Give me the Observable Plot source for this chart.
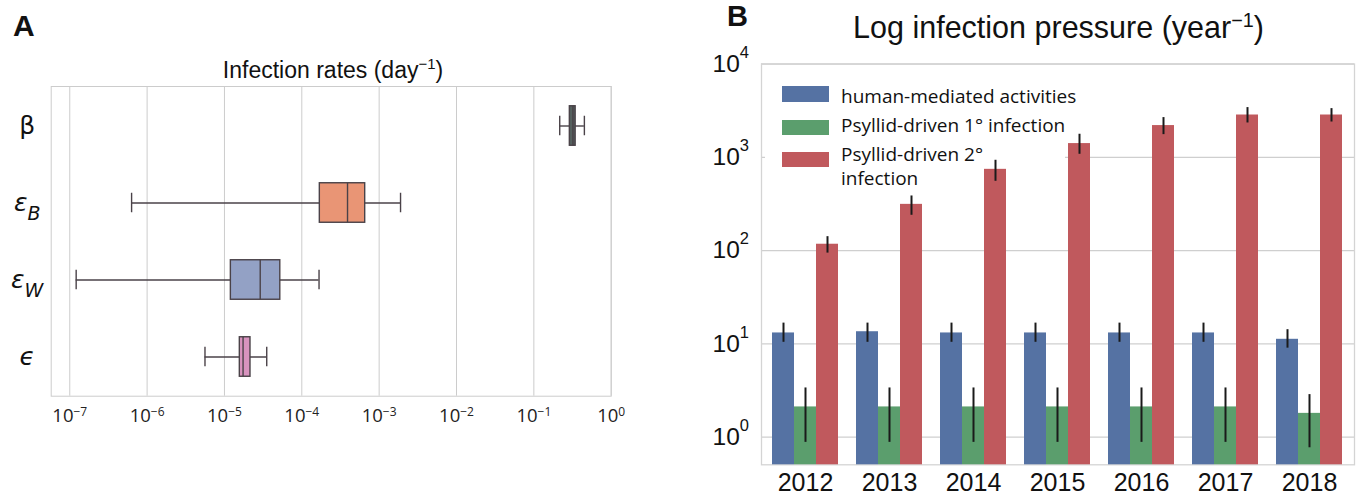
<!DOCTYPE html>
<html>
<head>
<meta charset="utf-8">
<script src="https://cdn.jsdelivr.net/npm/d3@7"></script>
<script src="https://cdn.jsdelivr.net/npm/@observablehq/plot@0.6"></script>
<style>
  html, body { margin: 0; padding: 0; background: #fff; }
  #page { position: relative; width: 1358px; height: 497px; overflow: hidden; background: #fff;
          font-family: "Liberation Sans", Arial, sans-serif; color: #111; }
  .plot-layer { position: absolute; left: 0; top: 0; }
  .panel-letter { position: absolute; font-weight: bold; line-height: 1; white-space: nowrap; }
  .title { position: absolute; line-height: 1; white-space: nowrap; transform: translateX(-50%); }
  .sup { font-size: 0.65em; position: relative; top: -0.55em; }
  .legend-text { position: absolute; font-family: "Open Sans", sans-serif; font-size: 19px; line-height: 19px; white-space: nowrap; color: #111; }
  .legend-patch { position: absolute; }
</style>
</head>
<body>
<div id="page"></div>
<script>
// ---------------- Panel A data: infection rates (day^-1) ----------------
const paramLabels = ["β", "ε_B", "ε_W", "ϵ"];
const whiskerLow  = [0.216, 6.3e-7, 1.21e-7, 5.6e-6];
const quartile1   = [0.292, 1.71e-4, 1.21e-5, 1.58e-5];
const medians     = [0.320, 3.9e-4, 2.9e-5, 1.74e-5];
const quartile3   = [0.347, 6.6e-4, 5.27e-5, 2.17e-5];
const whiskerHigh = [0.450, 1.89e-3, 1.67e-4, 3.52e-5];
const boxColors   = ["#56615f", "#e99575", "#93a1c5", "#d893be"];
const rateTicks   = [1e-7, 1e-6, 1e-5, 1e-4, 1e-3, 1e-2, 1e-1, 1];
const rateDomain  = [Math.pow(10, -7.24), 1];

// ---------------- Panel B data: log infection pressure (year^-1) ----------------
const years = ["2012", "2013", "2014", "2015", "2016", "2017", "2018"];
const seriesNames  = ["human-mediated activities", "Psyllid-driven 1° infection", "Psyllid-driven 2° infection"];
const legendLabels = ["human-mediated activities", "Psyllid-driven 1° infection", "Psyllid-driven 2°\ninfection"];
const seriesColors = ["#5572a3", "#5b9e6d", "#c0595d"];
const humanValues     = [13.1, 13.5, 13.1, 13.1, 13.1, 13.1, 11.2];
const humanLow        = [10.4, 10.4, 10.4, 10.4, 10.4, 10.4, 9.0];
const humanHigh       = [16.7, 16.7, 16.7, 16.7, 16.7, 16.7, 14.2];
const primaryValues   = [2.11, 2.11, 2.11, 2.11, 2.11, 2.11, 1.80];
const primaryLow      = [0.88, 0.88, 0.88, 0.88, 0.88, 0.88, 0.77];
const primaryHigh     = [3.37, 3.37, 3.37, 3.37, 3.37, 3.37, 2.86];
const secondaryValues = [117, 313, 743, 1403, 2188, 2840, 2840];
const secondaryLow    = [94, 239, 553, 1077, 1750, 2333, 2389];
const secondaryHigh   = [141, 385, 929, 1766, 2664, 3410, 3324];
const pressureTicks   = [1, 10, 100, 1000, 10000];
const pressureDomain  = [Math.pow(10, -0.296), 10000];

// ---------------- helpers ----------------
const page = document.getElementById("page");
function addDiv(cls, css, html) {
  const d = document.createElement("div");
  d.className = cls;
  Object.assign(d.style, css);
  if (html != null) d.innerHTML = html;
  page.appendChild(d);
  return d;
}
const powLabel = d => "10^" + Math.round(Math.log10(d));
function superscriptTicks(svg, supSize, dy) {
  d3.select(svg).selectAll("text").each(function () {
    const m = /^10\^(-?\d+)$/.exec(this.textContent);
    if (!m) return;
    const t = d3.select(this);
    t.text(null);
    t.append("tspan").text("10");
    t.append("tspan").attr("dy", dy).attr("font-size", supSize).text(m[1].replace("-", "\u2212"));
  });
}

// ---------------- Panel A ----------------
const rateRows = paramLabels.map((p, i) => ({
  param: p, lo: whiskerLow[i], q1: quartile1[i], med: medians[i], q3: quartile3[i], hi: whiskerHigh[i], color: boxColors[i]
}));
const boxStroke = "#4a4248";
const plotA = Plot.plot({
  width: 640, height: 497,
  marginLeft: 50.7, marginRight: 29.3, marginTop: 86, marginBottom: 101.3,
  style: {background: "transparent", fontFamily: "'Open Sans', sans-serif", overflow: "visible"},
  x: {type: "log", domain: rateDomain, axis: null},
  y: {type: "band", domain: paramLabels, padding: 0, axis: null},
  color: {type: "identity"},
  marks: [
    Plot.gridX(rateTicks, {stroke: "#cccccc", strokeOpacity: 1, strokeWidth: 1}),
    Plot.frame({stroke: "#cccccc", strokeWidth: 1}),
    Plot.ruleY(rateRows, {y: "param", x1: "lo", x2: "hi", stroke: boxStroke, strokeWidth: 1.4}),
    Plot.tickX(rateRows, {x: "lo", y: "param", insetTop: 28.75, insetBottom: 28.75, stroke: boxStroke, strokeWidth: 1.4}),
    Plot.tickX(rateRows, {x: "hi", y: "param", insetTop: 28.75, insetBottom: 28.75, stroke: boxStroke, strokeWidth: 1.4}),
    Plot.barX(rateRows, {x1: "q1", x2: "q3", y: "param", fill: "color", insetTop: 18.75, insetBottom: 18.75, stroke: boxStroke, strokeWidth: 1.4}),
    Plot.tickX(rateRows, {x: "med", y: "param", insetTop: 18.75, insetBottom: 18.75, stroke: boxStroke, strokeWidth: 1.4}),
    Plot.axisX(rateTicks, {anchor: "bottom", tickSize: 0, tickPadding: 13, tickFormat: powLabel, label: null,
      fontSize: 18.5, fontFamily: "'Open Sans', sans-serif", fill: "#222"}),
    Plot.axisY({anchor: "left", tickSize: 0, tickPadding: 24, textAnchor: "middle", label: null,
      fontSize: 25, fontFamily: "'DejaVu Sans', sans-serif", fill: "#111"})
  ]
});
superscriptTicks(plotA, 12, -6.5);
// subscripts / italics for parameter names
d3.select(plotA).selectAll("text").each(function () {
  const s = this.textContent;
  if (!paramLabels.includes(s)) return;
  const t = d3.select(this);
  if (s === "β") return;
  t.attr("font-style", "italic");
  const m = /^(.)_(.)$/.exec(s);
  if (m) {
    t.text(null);
    t.append("tspan").text(m[1]);
    t.append("tspan").attr("dy", 9).attr("font-size", 19).text(m[2]);
  }
});
plotA.classList.add("plot-layer");
page.appendChild(plotA);

addDiv("panel-letter", {left: "13px", top: "10.6px", fontSize: "30px", fontFamily: "'Liberation Sans', Arial, sans-serif"}, "A");
addDiv("title", {left: "333px", top: "58.5px", fontSize: "23px"}, "Infection rates (day<span class='sup'>\u22121</span>)");

// ---------------- Panel B ----------------
const pressureRows = [];
const valueSets = [humanValues, primaryValues, secondaryValues];
const lowSets = [humanLow, primaryLow, secondaryLow];
const highSets = [humanHigh, primaryHigh, secondaryHigh];
years.forEach((y, yi) => seriesNames.forEach((s, si) => pressureRows.push({
  year: y, series: s, value: valueSets[si][yi], lo: lowSets[si][yi], hi: highSets[si][yi], floor: pressureDomain[0]
})));

const wrapB = document.createElement("div");
Object.assign(wrapB.style, {position: "absolute", left: "680px", top: "0px", width: "678px", height: "497px"});
page.appendChild(wrapB);

const dimsB = {width: 678, height: 497, marginLeft: 81, marginRight: 4, marginTop: 63.5, marginBottom: 32.7};

// background layer: grid, frame, y axis
const plotBbg = Plot.plot({
  ...dimsB,
  style: {background: "transparent", fontFamily: "'Liberation Sans', Arial, sans-serif", overflow: "visible"},
  y: {type: "log", domain: pressureDomain, axis: null},
  marks: [
    Plot.gridY(pressureTicks, {stroke: "#cfcfcf", strokeOpacity: 1, strokeWidth: 1.3}),
    Plot.frame({stroke: "#d4d4d4", strokeWidth: 1.3}),
    Plot.axisY(pressureTicks, {anchor: "left", tickSize: 0, tickPadding: 12.5, tickFormat: powLabel, label: null,
      fontSize: 24.5, fontFamily: "'Liberation Sans', Arial, sans-serif", fill: "#111"})
  ]
});
superscriptTicks(plotBbg, 16.5, -14);
plotBbg.classList.add("plot-layer");
wrapB.appendChild(plotBbg);

// legend background (hides the grid line behind the legend, bars stay on top)
const legBg = document.createElement("div");
Object.assign(legBg.style, {position: "absolute", left: "85px", top: "76px", width: "300px", height: "83px", background: "#fff"});
wrapB.appendChild(legBg);

// foreground layer: grouped bars with error bars
const plotBfg = Plot.plot({
  ...dimsB,
  style: {background: "transparent", fontFamily: "'Liberation Sans', Arial, sans-serif", overflow: "visible"},
  fx: {domain: years, paddingInner: 0.213, paddingOuter: 0.1065, axis: null},
  x: {domain: seriesNames, padding: 0, axis: null},
  y: {type: "log", domain: pressureDomain, axis: null},
  color: {domain: seriesNames, range: seriesColors},
  marks: [
    Plot.barY(pressureRows, {fx: "year", x: "series", y1: "floor", y2: "value", fill: "series"}),
    Plot.ruleX(pressureRows, {fx: "year", x: "series", y1: "lo", y2: "hi", stroke: "#1a1a1a", strokeWidth: 2}),
    Plot.axisFx({anchor: "bottom", tickSize: 0, tickPadding: 8, label: null,
      fontSize: 25, fontFamily: "'Liberation Sans', Arial, sans-serif", fill: "#111"})
  ]
});
plotBfg.classList.add("plot-layer");
wrapB.appendChild(plotBfg);

// legend content
const legendTops = [86, 119.7, 151.7];
const legendBaselines = [104, 133.3, 161.7];
legendLabels.forEach((lab, i) => {
  const p = document.createElement("div");
  p.className = "legend-patch";
  Object.assign(p.style, {left: "102px", top: legendTops[i] + "px", width: "47px", height: "15.7px", background: seriesColors[i]});
  wrapB.appendChild(p);
  const lines = lab.split("\n");
  lines.forEach((ln, j) => {
    const t = document.createElement("div");
    t.className = "legend-text";
    t.textContent = ln;
    Object.assign(t.style, {left: "161px", top: (legendBaselines[i] + j * 24.3 - 16.9) + "px"});
    wrapB.appendChild(t);
  });
});

addDiv("panel-letter", {left: "727px", top: "1.5px", fontSize: "29px", fontFamily: "'Liberation Sans', Arial, sans-serif"}, "B");
addDiv("title", {left: "1058.5px", top: "12.2px", fontSize: "30.5px"}, "Log infection pressure (year<span class='sup'>\u22121</span>)");
</script>
</body>
</html>
